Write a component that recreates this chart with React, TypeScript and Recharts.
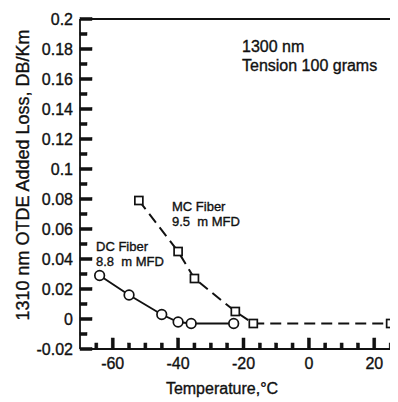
import React from "react";
import { LineChart, Line, XAxis, YAxis, ReferenceLine } from "recharts";

// DC fiber, 8.8 m MFD (circles, solid line)
const dcTemps = [-64, -55, -45, -40, -36, -23];
const dcLoss = [0.029, 0.016, 0.003, -0.002, -0.003, -0.003];

// MC fiber, 9.5 m MFD (squares, dashed line)
const mcTemps = [-52, -40, -35, -22.5, -17, 25];
const mcLoss = [0.079, 0.045, 0.027, 0.005, -0.003, -0.003];

// Axis ticks
const yMajorTicks = [-0.02, 0, 0.02, 0.04, 0.06, 0.08, 0.1, 0.12, 0.14, 0.16, 0.18, 0.2];
const xMajorTicks = [-60, -40, -20, 0, 20];
const xMinorStep = 5;

const X_DOMAIN: [number, number] = [-70, 30];
const Y_DOMAIN: [number, number] = [-0.02, 0.2];

const dcData = dcTemps.map((t, i) => ({ temp: t, loss: dcLoss[i] }));
const mcData = mcTemps.map((t, i) => ({ temp: t, loss: mcLoss[i] }));

// minor y ticks halfway between the majors
const yTicks: number[] = [];
yMajorTicks.forEach((v, i) => {
  yTicks.push(v);
  if (i < yMajorTicks.length - 1) yTicks.push(Number(((v + yMajorTicks[i + 1]) / 2).toFixed(3)));
});
const xTicks: number[] = [];
for (let t = -65; t <= 25; t += xMinorStep) xTicks.push(t);

const isYMajor = (v: number) => yMajorTicks.some((m) => Math.abs(m - v) < 1e-6);
const isXMajor = (v: number) => xMajorTicks.includes(v);

const FONT = '"Liberation Sans", Arial, Helvetica, sans-serif';
const INK = "#111111";
const TICK_W = 3;

const fmtY = (v: number) => String(Number(v.toFixed(2)));

// labels get a hairline outline so they read as heavy as printed type
const labelStyle: React.CSSProperties = {
  fontFamily: FONT,
  fill: INK,
  stroke: INK,
  strokeWidth: 0.35,
  whiteSpace: "pre",
};

// Left axis tick: inward mark plus label for the major values
const YTick = (props: any) => {
  const x = Number(props.x);
  const y = Number(props.y);
  const v = Number(props.payload.value);
  const major = isYMajor(v);
  return (
    <g>
      <rect x={x} y={y - TICK_W / 2} width={major ? 12 : 7} height={TICK_W} fill={INK} stroke={INK} strokeWidth={0.5} />
      {major && (
        <text x={x - 7} y={y} textAnchor="end" dominantBaseline="central" fontSize={16} style={labelStyle}>
          {fmtY(v)}
        </text>
      )}
    </g>
  );
};

// Bottom axis tick: upward mark plus label for the major values
const XTick = (props: any) => {
  const x = Number(props.x);
  const y = Number(props.y);
  const v = Number(props.payload.value);
  const major = isXMajor(v);
  const len = major ? 11 : 6;
  return (
    <g>
      <rect x={x - TICK_W / 2} y={y - len} width={TICK_W} height={len} fill={INK} stroke={INK} strokeWidth={0.5} />
      {major && (
        <text x={x} y={y + 14} textAnchor="middle" dominantBaseline="central" fontSize={16} style={labelStyle}>
          {v}
        </text>
      )}
    </g>
  );
};

const SquareDot = (props: any) => {
  const { cx, cy } = props;
  return <rect x={cx - 4} y={cy - 4} width={8} height={8} fill="#fff" stroke={INK} strokeWidth={1.7} />;
};

const CircleDot = (props: any) => {
  const { cx, cy } = props;
  return <circle cx={cx} cy={cy} r={4.8} fill="#fff" stroke={INK} strokeWidth={1.7} />;
};

export default function App() {
  return (
    <div style={{ width: 390, height: 394, overflow: "hidden", background: "#fff" }}>
      <LineChart width={420} height={394} margin={{ top: 11, right: 21, bottom: 0, left: 0 }}>
        <XAxis
          dataKey="temp"
          type="number"
          domain={X_DOMAIN}
          ticks={xTicks}
          interval={0}
          tick={<XTick />}
          tickLine={false}
          tickSize={0}
          tickMargin={0}
          height={53}
          axisLine={{ stroke: INK, strokeWidth: 1.8 }}
          allowDataOverflow
        />
        <YAxis
          type="number"
          domain={Y_DOMAIN}
          ticks={yTicks}
          interval={0}
          tick={<YTick />}
          tickLine={false}
          tickSize={0}
          tickMargin={0}
          width={72}
          axisLine={{ stroke: INK, strokeWidth: 1.8 }}
          allowDataOverflow
        />
        <ReferenceLine y={Y_DOMAIN[1]} stroke={INK} strokeWidth={1.8} ifOverflow="visible" />
        <Line
          data={mcData}
          dataKey="loss"
          type="linear"
          stroke={INK}
          strokeWidth={2}
          strokeDasharray="11 6"
          dot={<SquareDot />}
          isAnimationActive={false}
        />
        <Line
          data={dcData}
          dataKey="loss"
          type="linear"
          stroke={INK}
          strokeWidth={1.9}
          dot={<CircleDot />}
          isAnimationActive={false}
        />
        <text x={15} y={167} transform="rotate(-90 15 167)" textAnchor="middle" dominantBaseline="central" fontSize={18} style={labelStyle}>
          1310 nm OTDE Added Loss, DB/Km
        </text>
        <text x={214} y={386} textAnchor="middle" fontSize={16} style={labelStyle}>
          Temperature,°C
        </text>
        <text x={234} y={44} fontSize={16} style={labelStyle}>1300 nm</text>
        <text x={234} y={63} fontSize={16} style={labelStyle}>Tension 100 grams</text>
        <text x={164} y={203} fontSize={13} style={labelStyle}>MC Fiber</text>
        <text x={164} y={218} fontSize={13} style={labelStyle}>9.5  m MFD</text>
        <text x={88} y={243} fontSize={13} style={labelStyle}>DC Fiber</text>
        <text x={88} y={258} fontSize={13} style={labelStyle}>8.8  m MFD</text>
      </LineChart>
    </div>
  );
}
